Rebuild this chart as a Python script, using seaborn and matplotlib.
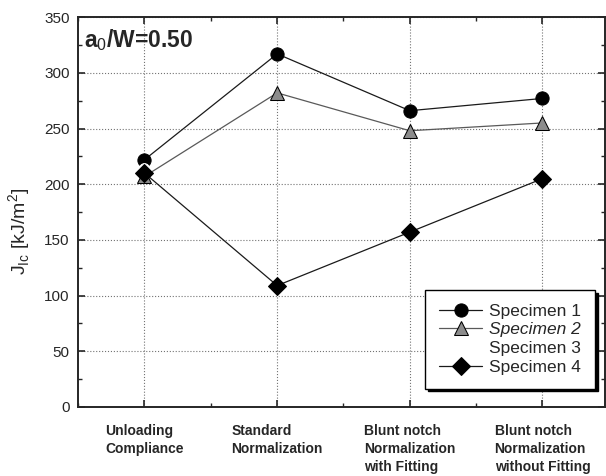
import matplotlib
matplotlib.use('Agg')
import matplotlib.pyplot as plt
import matplotlib.ticker as mticker
import seaborn as sns
import pandas as pd

methods = ['Unloading\nCompliance', 'Standard\nNormalization',
           'Blunt notch\nNormalization\nwith Fitting',
           'Blunt notch\nNormalization\nwithout Fitting']
spec1 = [222, 317, 266, 277]
spec2 = [207, 282, 248, 255]
spec3 = [215, None, None, None]
spec4 = [210, 109, 157, 205]

sns.set_style('ticks')
plt.rcParams['font.family'] = ['Liberation Sans', 'DejaVu Sans']
plt.rcParams['mathtext.fontset'] = 'custom'
plt.rcParams['mathtext.rm'] = 'Liberation Sans'
plt.rcParams['mathtext.bf'] = 'Liberation Sans:bold'

fig = plt.figure(figsize=(6.06, 4.76), dpi=100)
ax = fig.add_axes([0.129, 0.145, 0.869, 0.819])

styles = [
    ('Specimen 1', spec1, dict(marker='o', color='0.1', markerfacecolor='black',
                               markeredgecolor='black', markersize=9.5, linewidth=0.9)),
    ('Specimen 2', spec2, dict(marker='^', color='0.35', markerfacecolor='0.55',
                               markeredgecolor='black', markersize=10, linewidth=0.9)),
    ('Specimen 3', spec3, dict(marker='o', color='white', markerfacecolor='white',
                               markeredgecolor='white', markersize=7, linewidth=0)),
    ('Specimen 4', spec4, dict(marker='D', color='0.1', markerfacecolor='black',
                               markeredgecolor='black', markersize=9, linewidth=0.9)),
]
for name, vals, kw in styles:
    df = pd.DataFrame({'x': range(len(methods)), 'y': vals})
    sns.lineplot(data=df, x='x', y='y', ax=ax, label=name, **kw)

ax.set_xlim(-0.5, 3.47)
ax.set_ylim(0, 350)
ax.set_xticks(range(len(methods)))
ax.set_xticklabels(methods, fontweight='bold', fontsize=10, multialignment='left',
                   linespacing=1.4)
ax.xaxis.set_minor_locator(mticker.MultipleLocator(0.5))
ax.yaxis.set_major_locator(mticker.MultipleLocator(50))
ax.yaxis.set_minor_locator(mticker.MultipleLocator(25))
ax.tick_params(which='both', direction='in', top=True, right=True)
ax.tick_params(axis='y', labelsize=11, pad=6)
ax.tick_params(which='major', length=5, width=1.2)
ax.tick_params(which='minor', length=3, width=1)
ax.tick_params(axis='x', pad=12)
for s in ax.spines.values():
    s.set_linewidth(1.4)
ax.grid(True, which='major', linestyle=':', color='0.45', linewidth=0.8)

ax.set_xlabel('')
ax.set_ylabel(r'J$_{\mathrm{Ic}}$ [kJ/m$^2$]', fontsize=14)
ax.yaxis.set_label_coords(-0.085, 0.45)
ax.text(0.012, 0.975, r'a$_{\mathrm{0}}$/W=0.50', transform=ax.transAxes,
        fontsize=16.5, fontweight='bold', va='top', ha='left')

leg = ax.legend(loc='lower right', bbox_to_anchor=(0.998, 0.025), fontsize=12.5,
                fancybox=False, framealpha=1, edgecolor='black',
                shadow={'color': 'black', 'alpha': 1}, handlelength=2.5,
                handletextpad=0.4, borderpad=0.8, labelspacing=0.2)
leg.get_frame().set_linewidth(1)
leg.get_texts()[1].set_fontstyle('italic')

fig.savefig('out.png', dpi=100)
